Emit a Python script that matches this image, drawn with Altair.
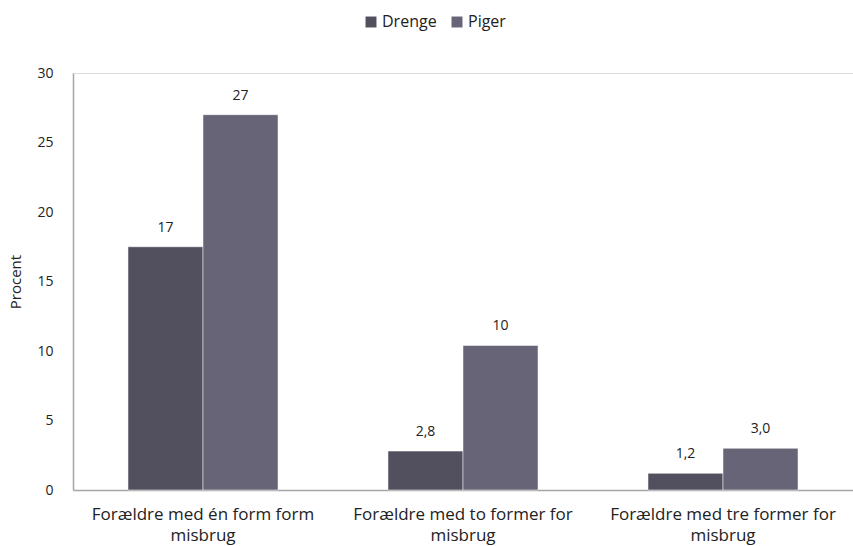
import altair as alt
import pandas as pd

categories = ["Forældre med én form form misbrug",
              "Forældre med to former for misbrug",
              "Forældre med tre former for misbrug"]
series = ["Drenge", "Piger"]
drenge = [17.5, 2.8, 1.2]
piger = [27.0, 10.4, 3.0]
drenge_labels = ["17", "2,8", "1,2"]
piger_labels = ["27", "10", "3,0"]

rows = []
for i, c in enumerate(categories):
    rows.append({"cat": c, "serie": "Drenge", "val": drenge[i], "lab": drenge_labels[i]})
    rows.append({"cat": c, "serie": "Piger", "val": piger[i], "lab": piger_labels[i]})
df = pd.DataFrame(rows)

FONT = "Open Sans"
colors = ["#52505f", "#686477"]

x = alt.X("cat:N", sort=categories, title=None,
          scale=alt.Scale(paddingInner=0, paddingOuter=0),
          axis=alt.Axis(labelAngle=0, labelFont=FONT, labelFontSize=17, labelColor="#222222",
                        labelLimit=400, labelPadding=16, labelLineHeight=21,
                        labelExpr="[replace(datum.label, ' misbrug', ''), 'misbrug']",
                        ticks=False, domainColor="#a6a6a6", domainWidth=1.5))
xo = alt.XOffset("serie:N", sort=series,
                 scale=alt.Scale(paddingInner=0, paddingOuter=0.733))
y = alt.Y("val:Q", title="Procent",
          scale=alt.Scale(domain=[0, 30], nice=False),
          axis=alt.Axis(values=[0, 5, 10, 15, 20, 25, 30], grid=False, ticks=False,
                        labelFont=FONT, labelFontSize=14, labelColor="#222222",
                        labelPadding=20, titleFont=FONT, titleFontSize=15,
                        titleFontWeight="normal", titleColor="#222222", titlePadding=13,
                        domainColor="#a6a6a6", domainWidth=1.5))

bars = alt.Chart(df).mark_bar(stroke="white", strokeWidth=0.5).encode(
    x=x, xOffset=xo, y=y,
    color=alt.Color("serie:N", sort=series, title=None,
                    scale=alt.Scale(domain=series, range=colors),
                    legend=alt.Legend(orient="none", direction="horizontal",
                                      legendX=290, legendY=-59, symbolType="square",
                                      symbolSize=120, symbolStrokeWidth=0,
                                      labelFont=FONT, labelFontSize=16, labelColor="#222222",
                                      columnPadding=12, labelOffset=3)),
)

text = alt.Chart(df).mark_text(dy=-19, font=FONT, fontSize=14, color="#222222").encode(
    x=x, xOffset=xo, y=y, text="lab:N")

chart = alt.layer(bars, text).properties(
    width=780, height=417,
    autosize=alt.AutoSizeParams(type="none"),
    padding={"left": 73, "top": 73, "right": 0, "bottom": 56},
).configure_view(stroke=None).configure(background="white")

chart.save("out.html", embed_options={"renderer": "svg", "actions": False})
